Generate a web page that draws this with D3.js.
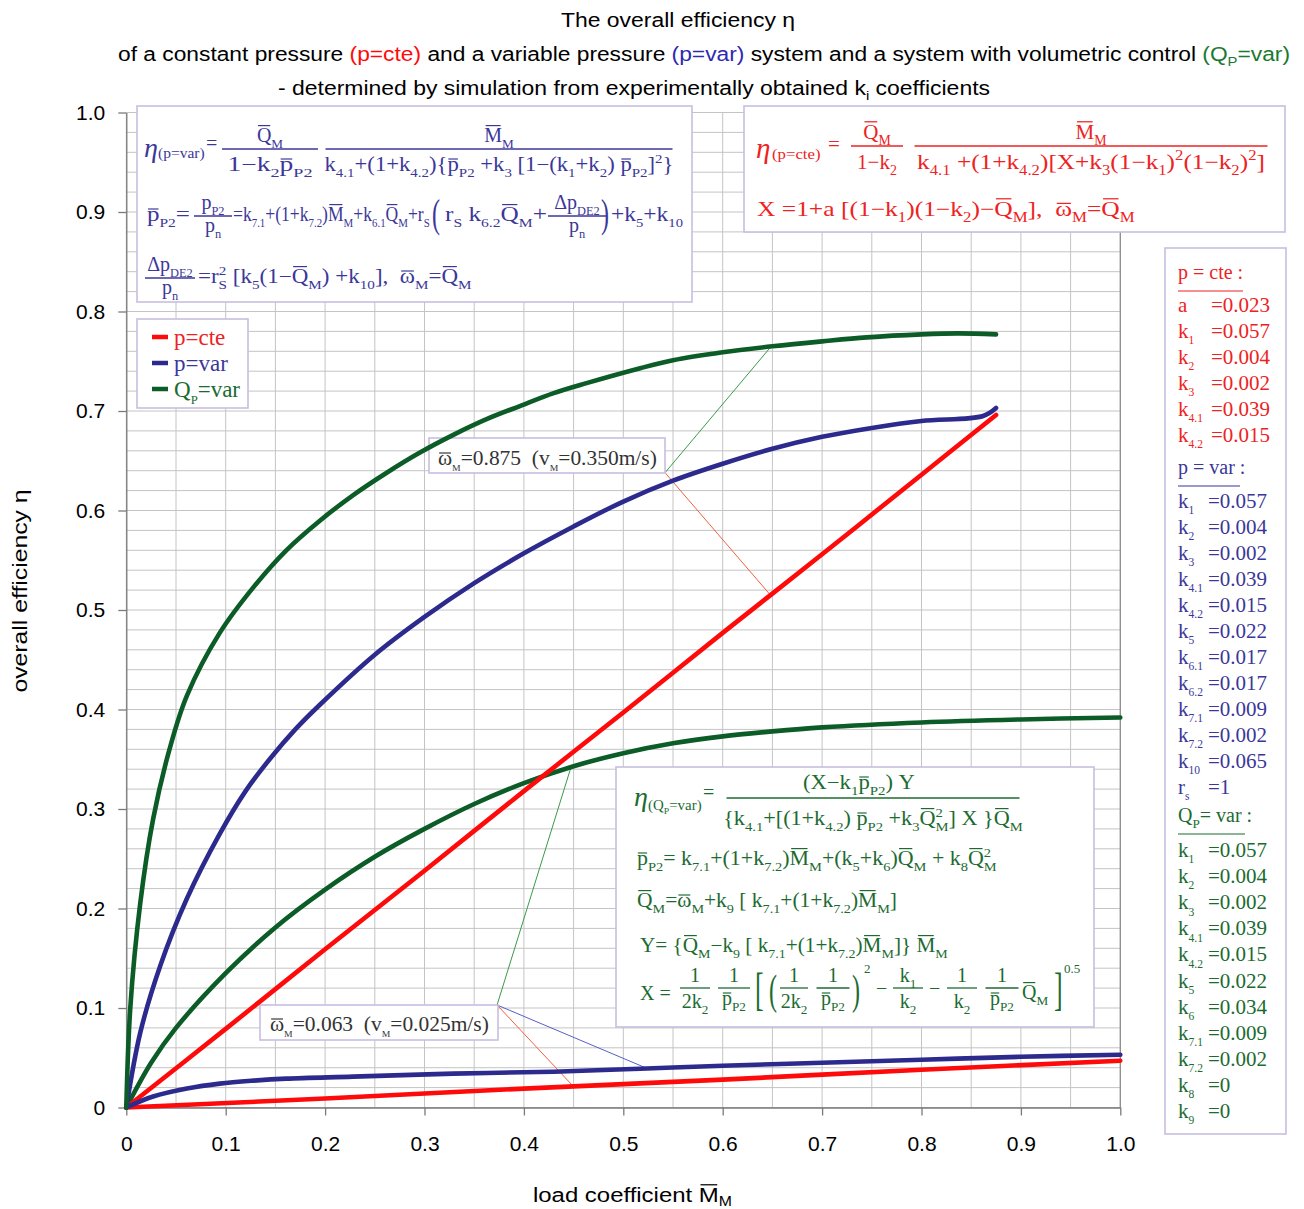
<!DOCTYPE html>
<html><head><meta charset="utf-8">
<script src="https://cdn.jsdelivr.net/npm/d3@7"></script>
<style>body{margin:0;background:#fff}svg{display:block}</style>
</head><body>
<svg id="c" width="1304" height="1209"></svg>
<script>
// ---------------- DATA ----------------
const xTickLabels = ["0","0.1","0.2","0.3","0.4","0.5","0.6","0.7","0.8","0.9","1.0"];
const yTickLabels = ["0","0.1","0.2","0.3","0.4","0.5","0.6","0.7","0.8","0.9","1.0"];

// p=cte, omega=0.875
const cteHiM   = [0, 0.1, 0.2, 0.3, 0.4, 0.5, 0.6, 0.7, 0.8, 0.875];
const cteHiEta = [0, 0.079, 0.159, 0.238, 0.318, 0.397, 0.477, 0.556, 0.636, 0.696];
// p=cte, omega=0.063
const cteLoM   = [0, 0.2, 0.4, 0.6, 0.8, 1.0];
const cteLoEta = [0, 0.009, 0.019, 0.028, 0.038, 0.047];
// p=var, omega=0.875
const varHiM   = [0, 0.014, 0.034, 0.061, 0.094, 0.12, 0.145, 0.17, 0.195, 0.25, 0.3, 0.35, 0.4, 0.45, 0.5, 0.55, 0.6, 0.65, 0.7, 0.75, 0.8, 0.862, 0.875];
const varHiEta = [0, 0.075, 0.142, 0.21, 0.275, 0.318, 0.351, 0.38, 0.405, 0.455, 0.493, 0.527, 0.557, 0.584, 0.609, 0.63, 0.647, 0.662, 0.674, 0.683, 0.69, 0.695, 0.703];
// p=var, omega=0.063
const varLoM   = [0, 0.027, 0.061, 0.094, 0.128, 0.161, 0.228, 0.329, 0.43, 0.517, 0.6, 0.7, 0.8, 0.9, 1.0];
const varLoEta = [0, 0.011, 0.019, 0.024, 0.027, 0.029, 0.031, 0.034, 0.036, 0.039, 0.042, 0.045, 0.048, 0.051, 0.053];
// Qp=var, omega=0.875
const qHiM   = [0, 0.004, 0.014, 0.027, 0.044, 0.061, 0.094, 0.128, 0.161, 0.195, 0.229, 0.262, 0.295, 0.329, 0.363, 0.396, 0.43, 0.463, 0.517, 0.55, 0.6, 0.65, 0.7, 0.745, 0.8, 0.837, 0.875];
const qHiEta = [0, 0.10, 0.205, 0.29, 0.362, 0.414, 0.477, 0.523, 0.56, 0.59, 0.616, 0.638, 0.658, 0.676, 0.692, 0.705, 0.718, 0.728, 0.743, 0.751, 0.759, 0.765, 0.77, 0.774, 0.777, 0.778, 0.777];
// Qp=var, omega=0.063
const qLoM   = [0, 0.025, 0.05, 0.1, 0.15, 0.2, 0.25, 0.3, 0.35, 0.4, 0.45, 0.5, 0.55, 0.6, 0.65, 0.7, 0.8, 0.9, 1.0];
const qLoEta = [0, 0.045, 0.08, 0.135, 0.181, 0.219, 0.252, 0.28, 0.305, 0.326, 0.343, 0.356, 0.366, 0.373, 0.378, 0.382, 0.387, 0.39, 0.392];

// annotation pointers [M, eta]
const annHiAnchor = [0.542, 0.638];
const annHiTargets = [[0.648, 0.764, "g"], [0.648, 0.515, "r"]];
const annLoAnchor = [0.373, 0.103];
const annLoTargets = [[0.448, 0.344, "g"], [0.449, 0.022, "r"], [0.527, 0.038, "b"]];

// parameter table
const cteNames = ["a","k_{1}","k_{2}","k_{3}","k_{4.1}","k_{4.2}"];
const cteVals  = ["0.023","0.057","0.004","0.002","0.039","0.015"];
const varNames = ["k_{1}","k_{2}","k_{3}","k_{4.1}","k_{4.2}","k_{5}","k_{6.1}","k_{6.2}","k_{7.1}","k_{7.2}","k_{10}","r_{s}"];
const varVals  = ["0.057","0.004","0.002","0.039","0.015","0.022","0.017","0.017","0.009","0.002","0.065","1"];
const qNames   = ["k_{1}","k_{2}","k_{3}","k_{4.1}","k_{4.2}","k_{5}","k_{6}","k_{7.1}","k_{7.2}","k_{8}","k_{9}"];
const qVals    = ["0.057","0.004","0.002","0.039","0.015","0.022","0.034","0.009","0.002","0","0"];

// ---------------- STYLE ----------------
const SERIF = "'Liberation Serif','Times New Roman',serif";
const SANS = "'Liberation Sans',Arial,sans-serif";
const RED = '#ff0a0a', BLUE = '#2d2a8e', GREEN = '#0b5c27';
const RT = '#ee2222', BT = '#3b3799', GT = '#1b6b31';
const BOX = '#c8bde0';
const col = { r: '#f06040', g: '#3a9a4a', b: '#5560c8' };

const svg = d3.select('#c');
svg.append('rect').attr('width', 1304).attr('height', 1209).attr('fill', '#fff');

const x = d3.scaleLinear().domain([0, 1]).range([126.3, 1120.3]);
const y = d3.scaleLinear().domain([0, 1]).range([1107.5, 112.5]);

// ---------------- helpers ----------------
function rich(g0, px, py, src, o = {}) {
  const g = g0.append('g');
  const fs = o.size || 20, ss = o.ss || 0.66;
  const t = g.append('text').attr('x', px).attr('y', py)
    .attr('font-family', o.family || SERIF).attr('font-size', fs)
    .attr('fill', o.fill || '#000').attr('text-anchor', o.anchor || 'start');
  if (o.italic) t.attr('font-style', 'italic');
  const bars = []; let idx = 0, cur = 0;
  const subOff = (o.subOff ?? 0.3) * fs, supOff = -(o.supOff ?? 0.42) * fs;
  function seg(text, off, size, dx) {
    let clean = '';
    for (const ch of text) { if (ch === '`') bars.push({ i: idx + clean.length, off, size }); else clean += ch; }
    if (!clean) return;
    const ts = t.append('tspan').attr('font-size', size).text(clean);
    if (Math.abs(off - cur) > 1e-6) ts.attr('dy', off - cur);
    if (dx) ts.attr('dx', dx);
    cur = off; idx += clean.length;
  }
  const isScript = k => (src[k] === '_' || src[k] === '^') && src[k + 1] === '{';
  let i = 0, buf = '';
  while (i < src.length) {
    if (isScript(i)) {
      if (buf) { seg(buf, 0, fs); buf = ''; }
      const e1 = src.indexOf('}', i + 2), s1 = src.slice(i + 2, e1), sub1 = src[i] === '_';
      seg(s1, sub1 ? subOff : supOff, fs * ss);
      i = e1 + 1;
      if (isScript(i)) {
        const e2 = src.indexOf('}', i + 2), s2 = src.slice(i + 2, e2), sub2 = src[i] === '_';
        seg(s2, sub2 ? subOff : supOff, fs * ss, -s1.replace(/`/g, '').length * fs * ss * 0.5);
        i = e2 + 1;
      }
    } else { buf += src[i]; i++; }
  }
  if (buf) seg(buf, 0, fs);
  const node = t.node(), txt = node.textContent;
  bars.forEach(b => {
    let e; try { e = node.getExtentOfChar(b.i); } catch (err) { return; }
    const ch = txt[b.i];
    const lower = ch !== ch.toUpperCase();
    const by = py + b.off - (lower ? 0.6 : 0.82) * b.size;
    g.append('line').attr('x1', e.x + e.width * 0.08).attr('x2', e.x + e.width * 0.92)
      .attr('y1', by).attr('y2', by).attr('stroke', o.fill || '#000')
      .attr('stroke-width', Math.max(1, b.size / 17));
  });
  if (o.len) {
    const w = node.getBBox().width;
    if (w > 0) g.attr('transform', `translate(${px},0) scale(${o.len / w},1) translate(${-px},0)`);
  }
  return t;
}
function frac(g, f, o) {
  rich(g, f.nx ?? f.cx, f.yb - (f.nOff ?? 7), f.num, { ...o, anchor: 'middle', len: f.nlen });
  rich(g, f.cx, f.yb + (f.dOff ?? 21), f.den, { ...o, anchor: 'middle', len: f.dlen });
  g.append('line').attr('x1', f.cx - f.w / 2).attr('x2', f.cx + f.w / 2)
    .attr('y1', f.yb).attr('y2', f.yb).attr('stroke', o.fill).attr('stroke-width', 1.3);
}
function big(g, px, py, ch, fs, sy, fill) {
  g.append('text').attr('transform', `translate(${px},${py}) scale(1,${sy})`)
    .attr('font-family', SERIF).attr('font-size', fs).attr('fill', fill).text(ch);
}
function box(g, x0, y0, w, h) {
  g.append('rect').attr('x', x0).attr('y', y0).attr('width', w).attr('height', h)
    .attr('fill', '#fff').attr('stroke', BOX).attr('stroke-width', 1.6);
}
const zip = (a, b) => a.map((v, i) => [v, b[i]]);

// ---------------- grid ----------------
const grid = svg.append('g');
const gx = d3.range(0, 1.0001, 0.05), gy = d3.range(0, 1.0001, 0.02);
grid.selectAll('.vx').data(gx).join('line')
  .attr('x1', d => x(d)).attr('x2', d => x(d)).attr('y1', y(0)).attr('y2', y(1))
  .attr('stroke', '#c4c4c4').attr('stroke-width', 1);
grid.selectAll('.hy').data(gy).join('line')
  .attr('y1', d => y(d)).attr('y2', d => y(d)).attr('x1', x(0)).attr('x2', x(1))
  .attr('stroke', '#c4c4c4').attr('stroke-width', 1);
svg.append('line').attr('x1', x(1)).attr('x2', x(1)).attr('y1', y(0)).attr('y2', y(1))
  .attr('stroke', '#8a8a8a').attr('stroke-width', 1.2);

// ---------------- axes ----------------
const ticks = d3.range(0, 11).map(i => i / 10);
const ax = svg.append('g').attr('transform', `translate(0,${y(0)})`)
  .call(d3.axisBottom(x).tickValues(ticks).tickFormat((d, i) => xTickLabels[i]).tickSize(8).tickSizeOuter(0).tickPadding(20.5));
const ay = svg.append('g').attr('transform', `translate(${x(0)},0)`)
  .call(d3.axisLeft(y).tickValues(ticks).tickFormat((d, i) => yTickLabels[i]).tickSize(8).tickSizeOuter(0).tickPadding(13));
[ax, ay].forEach(a => {
  a.attr('font-family', SANS).attr('font-size', 21);
  a.selectAll('path,line').attr('stroke', '#7a7a7a').attr('stroke-width', 1.3);
  a.selectAll('text').attr('fill', '#000');
});

// ---------------- annotation pointers & boxes ----------------
const ann = svg.append('g');
const drawPointers = (anchor, targets) => targets.forEach(t => {
  ann.append('line').attr('x1', x(anchor[0])).attr('y1', y(anchor[1]))
    .attr('x2', x(t[0])).attr('y2', y(t[1])).attr('stroke', col[t[2]]).attr('stroke-width', 1);
});
drawPointers(annHiAnchor, annHiTargets);
drawPointers(annLoAnchor, annLoTargets);
box(ann, 429, 438, 236, 35);
rich(ann, 438, 465, "`ω_{M}=0.875\u00a0\u00a0(v_{M}=0.350m/s)", { fill: '#333', size: 20, ss: 0.45, len: 219 });
box(ann, 260, 1005, 238, 35);
rich(ann, 270, 1031, "`ω_{M}=0.063\u00a0\u00a0(v_{M}=0.025m/s)", { fill: '#333', size: 20, ss: 0.45, len: 219 });

// ---------------- curves ----------------
const line = d3.line().x(d => x(d[0])).y(d => y(d[1])).curve(d3.curveCatmullRom.alpha(0.5));
const series = [
  { d: zip(qLoM, qLoEta), c: GREEN },
  { d: zip(cteHiM, cteHiEta), c: RED },
  { d: zip(cteLoM, cteLoEta), c: RED },
  { d: zip(varLoM, varLoEta), c: BLUE },
  { d: zip(varHiM, varHiEta), c: BLUE },
  { d: zip(qHiM, qHiEta), c: GREEN },
];
svg.append('g').selectAll('path').data(series).join('path')
  .attr('d', s => line(s.d)).attr('fill', 'none').attr('stroke', s => s.c)
  .attr('stroke-width', 4.6).attr('stroke-linecap', 'round').attr('stroke-linejoin', 'round');

// ---------------- formula: p=var (blue) ----------------
const fb = svg.append('g');
box(fb, 137, 106, 555, 196);
const ob = { fill: BT, size: 20 };
const ob2 = { fill: BT, size: 20, ss: 0.62 };
rich(fb, 144, 157, "η", { fill: BT, size: 28, italic: true });
rich(fb, 158, 158, "(p=var)", { fill: BT, size: 14, len: 47 });
rich(fb, 206, 150, "=", ob);
frac(fb, { cx: 270, yb: 149, w: 96, num: "`Q_{M}", den: "1−k_{2}`p_{P2}", nOff: 7, dOff: 22, dlen: 85 }, ob);
frac(fb, { cx: 499, yb: 149, w: 347, num: "`M_{M}", den: "k_{4.1}+(1+k_{4.2}){`p_{P2}\u00a0+k_{3}\u00a0[1−(k_{1}+k_{2})\u00a0`p_{P2}]^{2}}", nOff: 7, dOff: 22, dlen: 349 }, ob);
rich(fb, 147, 221, "`p_{P2}=", { ...ob2, len: 43 });
frac(fb, { cx: 213, yb: 216, w: 38, num: "p_{P2}", den: "p_{n}", nOff: 7, dOff: 16 }, ob2);
rich(fb, 233, 221, "=k_{7.1}+(1+k_{7.2})`M_{M}+k_{6.1}`Q_{M}+r_{S}", { ...ob2, len: 197 });
big(fb, 432, 227, "(", 24, 1.7, BT);
rich(fb, 445, 221, "r_{S}\u00a0k_{6.2}`Q_{M}+", { ...ob2, len: 102 });
frac(fb, { cx: 577, yb: 216, w: 58, num: "Δp_{DE2}", den: "p_{n}", nOff: 7, dOff: 16 }, ob2);
big(fb, 601, 227, ")", 24, 1.7, BT);
rich(fb, 611, 221, "+k_{5}+k_{10}", { ...ob2, len: 72 });
frac(fb, { cx: 170, yb: 278, w: 50, num: "Δp_{DE2}", den: "p_{n}", nOff: 7, dOff: 16 }, ob2);
rich(fb, 198, 283, "=r^{2}_{S}\u00a0[k_{5}(1−`Q_{M})\u00a0+k_{10}],\u00a0\u00a0`ω_{M}=`Q_{M}", { ...ob, len: 274 });

// ---------------- formula: p=cte (red) ----------------
const fr = svg.append('g');
box(fr, 744, 106, 541, 126);
const orr = { fill: RT, size: 21 };
rich(fr, 756, 158, "η", { fill: RT, size: 29, italic: true });
rich(fr, 772, 159, "(p=cte)", { fill: RT, size: 14, len: 49 });
rich(fr, 828, 151, "=", orr);
frac(fr, { cx: 877, yb: 146, w: 52, num: "`Q_{M}", den: "1−k_{2}", nOff: 7, dOff: 23 }, orr);
frac(fr, { cx: 1091, yb: 146, w: 353, num: "`M_{M}", den: "k_{4.1}\u00a0+(1+k_{4.2})[X+k_{3}(1−k_{1})^{2}(1−k_{2})^{2}]", nOff: 7, dOff: 23, dlen: 348 }, orr);
rich(fr, 757, 216, "X\u00a0=1+a\u00a0[(1−k_{1})(1−k_{2})−`Q_{M}],\u00a0\u00a0`ω_{M}=`Q_{M}", { ...orr, len: 378 });

// ---------------- formula: Qp=var (green) ----------------
const fg = svg.append('g');
box(fg, 616, 767, 478, 260);
const og = { fill: GT, size: 20 };
rich(fg, 634, 806, "η", { fill: GT, size: 28, italic: true });
rich(fg, 648, 810, "(Q_{P}=var)", { fill: GT, size: 14, len: 54 });
rich(fg, 703, 799, "=", og);
frac(fg, { cx: 873, nx: 859, yb: 798, w: 293, num: "(X−k_{1}`p_{P2})\u00a0Y", den: "{k_{4.1}+[(1+k_{4.2})\u00a0`p_{P2}\u00a0+k_{3}`Q^{2}_{M}]\u00a0X\u00a0}`Q_{M}", nOff: 9, dOff: 27, nlen: 112, dlen: 300 }, og);
rich(fg, 637, 865, "`p_{P2}=\u00a0k_{7.1}+(1+k_{7.2})`M_{M}+(k_{5}+k_{6})`Q_{M}\u00a0+\u00a0k_{8}`Q^{2}_{M}", { ...og, len: 360 });
rich(fg, 637, 907, "`Q_{M}=`ω_{M}+k_{9}\u00a0[\u00a0k_{7.1}+(1+k_{7.2})`M_{M}]", { ...og, len: 260 });
rich(fg, 640, 952, "Y=\u00a0{`Q_{M}−k_{9}\u00a0[\u00a0k_{7.1}+(1+k_{7.2})`M_{M}]}\u00a0`M_{M}", { ...og, len: 308 });
rich(fg, 640, 1000, "X\u00a0=", og);
frac(fg, { cx: 695, yb: 988, w: 30, num: "1", den: "2k_{2}", nOff: 6, dOff: 20 }, og);
frac(fg, { cx: 734, yb: 988, w: 32, num: "1", den: "`p_{P2}", nOff: 6, dOff: 17 }, og);
big(fg, 755, 1005, "[", 26, 1.8, GT);
big(fg, 769, 1004, "(", 24, 1.75, GT);
frac(fg, { cx: 794, yb: 988, w: 28, num: "1", den: "2k_{2}", nOff: 6, dOff: 20 }, og);
frac(fg, { cx: 833, yb: 988, w: 33, num: "1", den: "`p_{P2}", nOff: 6, dOff: 17 }, og);
big(fg, 852, 1004, ")", 24, 1.75, GT);
rich(fg, 864, 973, "2", { fill: GT, size: 13 });
rich(fg, 876, 995, "−", og);
frac(fg, { cx: 908, yb: 988, w: 30, num: "k_{1}", den: "k_{2}", nOff: 6, dOff: 20 }, og);
rich(fg, 929, 995, "−", og);
frac(fg, { cx: 962, yb: 988, w: 30, num: "1", den: "k_{2}", nOff: 6, dOff: 20 }, og);
frac(fg, { cx: 1002, yb: 988, w: 33, num: "1", den: "`p_{P2}", nOff: 6, dOff: 17 }, og);
rich(fg, 1022, 999, "`Q_{M}", og);
big(fg, 1054, 1005, "]", 26, 1.8, GT);
rich(fg, 1064, 973, "0.5", { fill: GT, size: 13 });

// ---------------- parameter table ----------------
const pt = svg.append('g');
box(pt, 1165, 248, 121, 886);
function section(header, hy, ulw, names, vals, y0, step, fill, vx) {
  rich(pt, 1178, hy, header, { fill, size: 20 });
  pt.append('line').attr('x1', 1178).attr('x2', 1178 + ulw).attr('y1', hy + 12).attr('y2', hy + 12)
    .attr('stroke', fill).attr('stroke-width', 1.2);
  names.forEach((n, i) => {
    const yy = y0 + i * step;
    rich(pt, 1178, yy, n, { fill, size: 21, ss: 0.55 });
    rich(pt, vx, yy, "=" + vals[i], { fill, size: 21 });
  });
}
section("p\u00a0=\u00a0cte\u00a0:", 279, 65, cteNames, cteVals, 312, 26, RT, 1211);
section("p\u00a0=\u00a0var\u00a0:", 474, 62, varNames, varVals, 508, 26, BT, 1208);
section("Q_{P}=\u00a0var\u00a0:", 822, 67, qNames, qVals, 857, 26.1, GT, 1208);

// ---------------- legend ----------------
const lg = svg.append('g');
box(lg, 137, 319, 111, 89);
const legendItems = [["p=cte", RED, RT], ["p=var", BLUE, BT], ["Q_{P}=var", GREEN, GT]];
legendItems.forEach((it, i) => {
  const yy = 337 + i * 26;
  lg.append('line').attr('x1', 152).attr('x2', 168).attr('y1', yy).attr('y2', yy)
    .attr('stroke', it[1]).attr('stroke-width', 4.5);
  rich(lg, 174, yy + 8, it[0], { fill: it[2], size: 23, ss: 0.55 });
});

// ---------------- titles ----------------
svg.append('text').attr('x', 561).attr('y', 27).attr('font-family', SANS).attr('font-size', 20)
  .attr('textLength', 234).attr('lengthAdjust', 'spacingAndGlyphs').text('The overall efficiency η');
const t2 = svg.append('text').attr('x', 118).attr('y', 61).attr('font-family', SANS).attr('font-size', 20)
  .attr('textLength', 1172).attr('lengthAdjust', 'spacingAndGlyphs');
const titleParts = [
  ["of a constant pressure ", '#000', 0], ["(p=cte)", RED, 0], [" and a variable pressure ", '#000', 0],
  ["(p=var)", '#2e2ab0', 0], [" system and a system with volumetric control ", '#000', 0],
  ["(Q", '#1a7a30', 0], ["P", '#1a7a30', 1], ["=var)", '#1a7a30', -1]];
titleParts.forEach(p => {
  const ts = t2.append('tspan').attr('fill', p[1]).text(p[0]);
  if (p[2] === 1) ts.attr('font-size', 13).attr('dy', 5);
  if (p[2] === -1) ts.attr('dy', -5);
});
const t3 = svg.append('text').attr('x', 278).attr('y', 95).attr('font-family', SANS).attr('font-size', 20)
  .attr('textLength', 712).attr('lengthAdjust', 'spacingAndGlyphs');
t3.append('tspan').text('- determined by simulation from experimentally obtained k');
t3.append('tspan').attr('font-size', 13).attr('dy', 5).text('i');
t3.append('tspan').attr('dy', -5).text(' coefficients');

// axis titles
svg.append('text').attr('transform', 'translate(27,591) rotate(-90)').attr('text-anchor', 'middle')
  .attr('font-family', SANS).attr('font-size', 21).attr('textLength', 203).attr('lengthAdjust', 'spacingAndGlyphs')
  .text('overall efficiency η');
rich(svg, 533, 1202, "load coefficient `M_{M}", { family: SANS, size: 21, len: 199, subOff: 0.18 });
</script>
</body></html>
